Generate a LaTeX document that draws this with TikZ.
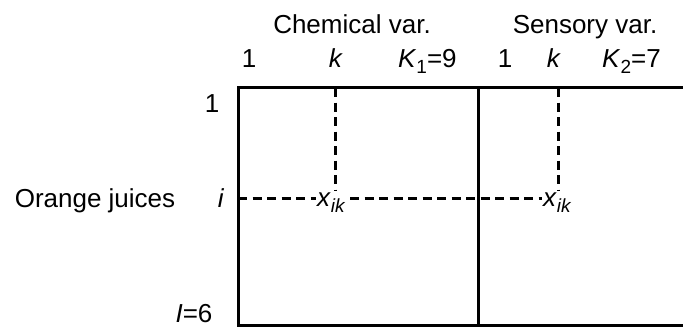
\documentclass[tikz,border=0pt]{standalone}
\usepackage{fontspec}
\setmainfont{Liberation Sans}
\newcommand{\lowsub}[1]{\raisebox{-6.5pt}{\fontsize{19}{20}\selectfont #1}}
\begin{document}
\begin{tikzpicture}[x=1pt,y=-1pt,
  lbl/.style={anchor=base,inner sep=0pt,font=\fontsize{26}{30}\selectfont},
  solidline/.style={line width=3pt},
  dashline/.style={line width=3pt,dash pattern=on 9pt off 5.5pt}]
\useasboundingbox (0,0) rectangle (683,327);
% frame
\draw[solidline] (690,87) -- (238,87) -- (238,325) -- (690,325);
\draw[solidline] (478,87) -- (478,325);
% headers
\node[lbl] (chem) at (352,33) {Chemical var.};
\node[lbl] (sens) at (585,33) {Sensory var.};
\node[lbl] (c1) at (249,67) {1};
\node[lbl] (ck) at (336,67) {\textit{k}};
\node[lbl,anchor=base west] (cK) at (398,67) {\textit{K}\lowsub{1}=9};
\node[lbl] (s1) at (505,67) {1};
\node[lbl] (sk) at (554,67) {\textit{k}};
\node[lbl,anchor=base west] (sK) at (602,67) {\textit{K}\lowsub{2}=7};
% row labels
\node[lbl] (r1) at (212,112) {1};
\node[lbl] (ri) at (221,207) {\textit{i}};
\node[lbl] (rI) at (194,322) {\textit{I}=6};
\node[lbl] (oj) at (95,207) {Orange juices};
% cell labels
\node[lbl,anchor=base west] (x1) at (317,206) {\textit{x}\lowsub{\textit{ik}}};
\node[lbl,anchor=base west] (x2) at (543,206) {\textit{x}\lowsub{\textit{ik}}};
% dashed guides
\coordinate (v1t) at (335,88);
\coordinate (v1b) at (335,191);
\coordinate (v2t) at (558,88);
\coordinate (v2b) at (558,191);
\coordinate (hl) at (238,198);
\coordinate (h1e) at (316,198);
\coordinate (h2s) at (350,198);
\coordinate (h2e) at (542,198);
\draw[dashline] (v1t) -- (v1b);
\draw[dashline] (v2t) -- (v2b);
\draw[dashline] (hl) -- (h1e);
\draw[dashline] (h2s) -- (h2e);
\end{tikzpicture}
\end{document}
